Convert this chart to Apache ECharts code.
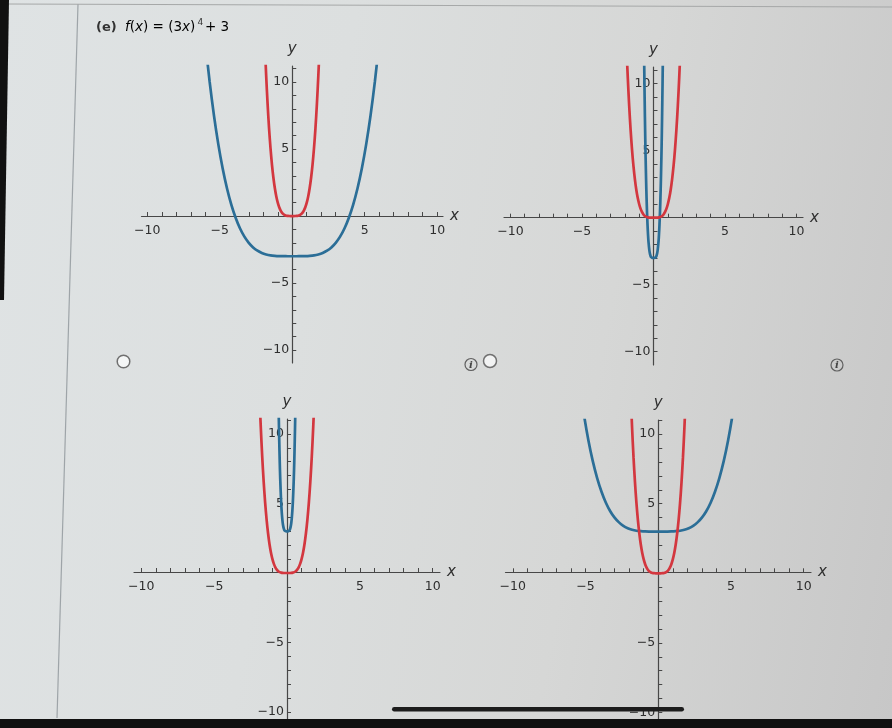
<!DOCTYPE html>
<html>
<head>
<meta charset="utf-8">
<script src="https://cdn.jsdelivr.net/npm/echarts@6/dist/echarts.min.js"></script>
<style>
  html, body { margin: 0; padding: 0; }
  body {
    width: 892px; height: 728px; overflow: hidden;
    background: linear-gradient(100deg, #dfe3e4 0%, #dcdfdf 35%, #d6d7d6 65%, #c7c7c7 100%);
  }
  #chart { width: 892px; height: 728px; }
</style>
</head>
<body>
<div id="chart"></div>
<script>
// ---- data ----
// parent curve y = x^4 sample points
const xParent = [-2, -1.9, -1.8, -1.7, -1.6, -1.5, -1.4, -1.3, -1.2, -1.1, -1, -0.9, -0.8, -0.7, -0.6, -0.5, -0.4, -0.3, -0.2, -0.1, 0, 0.1, 0.2, 0.3, 0.4, 0.5, 0.6, 0.7, 0.8, 0.9, 1, 1.1, 1.2, 1.3, 1.4, 1.5, 1.6, 1.7, 1.8, 1.9, 2];
const yParent = [16, 13.03, 10.5, 8.35, 6.55, 5.06, 3.84, 2.86, 2.07, 1.46, 1, 0.656, 0.41, 0.24, 0.13, 0.0625, 0.026, 0.008, 0.002, 0, 0, 0, 0.002, 0.008, 0.026, 0.0625, 0.13, 0.24, 0.41, 0.656, 1, 1.46, 2.07, 2.86, 3.84, 5.06, 6.55, 8.35, 10.5, 13.03, 16];
// horizontally stretched / compressed x positions of the blue curves
const xWide = [-6, -5.7, -5.4, -5.1, -4.8, -4.5, -4.2, -3.9, -3.6, -3.3, -3, -2.7, -2.4, -2.1, -1.8, -1.5, -1.2, -0.9, -0.6, -0.3, 0, 0.3, 0.6, 0.9, 1.2, 1.5, 1.8, 2.1, 2.4, 2.7, 3, 3.3, 3.6, 3.9, 4.2, 4.5, 4.8, 5.1, 5.4, 5.7, 6];
const xNarrow = [-0.667, -0.633, -0.6, -0.567, -0.533, -0.5, -0.467, -0.433, -0.4, -0.367, -0.333, -0.3, -0.267, -0.233, -0.2, -0.167, -0.133, -0.1, -0.067, -0.033, 0, 0.033, 0.067, 0.1, 0.133, 0.167, 0.2, 0.233, 0.267, 0.3, 0.333, 0.367, 0.4, 0.433, 0.467, 0.5, 0.533, 0.567, 0.6, 0.633, 0.667];
// blue curve heights (shifted down 3 / up 3)
const yDown = [13, 10.03, 7.5, 5.35, 3.55, 2.06, 0.84, -0.14, -0.93, -1.54, -2, -2.34, -2.59, -2.76, -2.87, -2.94, -2.974, -2.992, -2.998, -3, -3, -3, -2.998, -2.992, -2.974, -2.94, -2.87, -2.76, -2.59, -2.34, -2, -1.54, -0.93, -0.14, 0.84, 2.06, 3.55, 5.35, 7.5, 10.03, 13];
const yUp = [19, 16.03, 13.5, 11.35, 9.55, 8.06, 6.84, 5.86, 5.07, 4.46, 4, 3.66, 3.41, 3.24, 3.13, 3.06, 3.026, 3.008, 3.002, 3, 3, 3, 3.002, 3.008, 3.026, 3.06, 3.13, 3.24, 3.41, 3.66, 4, 4.46, 5.07, 5.86, 6.84, 8.06, 9.55, 11.35, 13.5, 16.03, 19];
// axis ticks / labels
const xTicks = [-10, -9, -8, -7, -6, -5, -4, -3, -2, -1, 1, 2, 3, 4, 5, 6, 7, 8, 9, 10];
const yTicks = [-10, -9, -8, -7, -6, -5, -4, -3, -2, -1, 1, 2, 3, 4, 5, 6, 7, 8, 9, 10, 11];
const tickLabels = [-10, -5, 5, 10];
// panels: which blue curve goes where
const panels = [
  { bx: xWide,   by: yDown },  // top-left
  { bx: xNarrow, by: yDown },  // top-right
  { bx: xNarrow, by: yUp },    // bottom-left
  { bx: xWide,   by: yUp }     // bottom-right
];

const RED = '#d3373f';
const BLUE = '#2b6e97';
const AXIS = '#474747';

const zip = (xs, ys) => xs.map((x, i) => [x, ys[i]]);
const fmt = v => (v < 0 ? '\u2212' + Math.abs(v) : String(v));

const gridDefs = [
  { left: 141.5, top: 66, width: 301.5, height: 297, xr: 10.4, ymin: -10.97, ymax: 11.2 },
  { left: 504, top: 67, width: 299, height: 298, xr: 10.45, ymin: -10.99, ymax: 11.24 },
  { left: 134, top: 419, width: 306, height: 311, xr: 10.5, ymin: -11.14, ymax: 11.07 },
  { left: 505.5, top: 420, width: 305.5, height: 310, xr: 10.5, ymin: -11.12, ymax: 11.02 }
];

const grids = [], xAxes = [], yAxes = [], series = [];
gridDefs.forEach((g, i) => {
  grids.push({ left: g.left, top: g.top, width: g.width, height: g.height, containLabel: false });
  // place the axes through the origin (layout only)
  const xOff = -g.height * (0 - g.ymin) / (g.ymax - g.ymin);
  const yOff = -g.width * 0.5;
  xAxes.push({
    type: 'value', gridIndex: i, min: -g.xr, max: g.xr, position: 'bottom', offset: xOff,
    name: 'x', nameLocation: 'end', nameGap: 7,
    nameTextStyle: { fontFamily: 'DejaVu Sans', fontStyle: 'italic', fontSize: 15, color: '#2e2e2e', verticalAlign: 'middle' },
    axisLine: { show: true, onZero: false, lineStyle: { color: AXIS, width: 1.2 } },
    axisTick: { show: true, inside: true, length: 4, customValues: xTicks, lineStyle: { color: AXIS, width: 1 } },
    axisLabel: { show: true, customValues: tickLabels, formatter: fmt, margin: 8, fontFamily: 'DejaVu Sans', fontSize: 12.5, color: '#2e2e2e' },
    splitLine: { show: false }
  });
  yAxes.push({
    type: 'value', gridIndex: i, min: g.ymin, max: g.ymax, position: 'left', offset: yOff,
    name: 'y', nameLocation: 'end', nameGap: 9,
    nameTextStyle: { fontFamily: 'DejaVu Sans', fontStyle: 'italic', fontSize: 15, color: '#2e2e2e' },
    axisLine: { show: true, onZero: false, lineStyle: { color: AXIS, width: 1.2 } },
    axisTick: { show: true, inside: true, length: 4, customValues: yTicks, lineStyle: { color: AXIS, width: 1 } },
    axisLabel: { show: true, customValues: tickLabels, formatter: fmt, margin: 3, fontFamily: 'DejaVu Sans', fontSize: 12.5, color: '#2e2e2e' },
    splitLine: { show: false }
  });
  const p = panels[i];
  series.push({
    type: 'line', xAxisIndex: i, yAxisIndex: i, data: zip(p.bx, p.by),
    smooth: 0.3, showSymbol: false, clip: true,
    lineStyle: { color: BLUE, width: 2.7 }, z: 3
  });
  series.push({
    type: 'line', xAxisIndex: i, yAxisIndex: i, data: zip(xParent, yParent),
    smooth: 0.3, showSymbol: false, clip: true,
    lineStyle: { color: RED, width: 2.7 }, z: 4
  });
});

const graphic = [
  // black left edge of the photo
  { type: 'polygon', shape: { points: [[0, 0], [9, 0], [4, 300], [0, 300]] }, style: { fill: '#111' }, z: 0 },
  // panel separator line and top line
  { type: 'line', shape: { x1: 78, y1: 4, x2: 57, y2: 718 }, style: { stroke: '#9ea4a8', lineWidth: 1.2 }, z: 0 },
  { type: 'line', shape: { x1: 9, y1: 4, x2: 892, y2: 7 }, style: { stroke: '#a6a8a8', lineWidth: 1.2 }, z: 0 },
  // title
  { type: 'text', left: 96, top: 21, style: { text: '(e)', font: 'bold 13px "DejaVu Sans"', fill: '#333' } },
  { type: 'text', left: 125, top: 20, style: {
      text: '{i|f}{n|(}{i|x}{n|) = (}{r|3}{i|x}{n|)}',
      rich: {
        i: { fontFamily: 'DejaVu Sans', fontStyle: 'italic', fontSize: 13.5, color: '#333' },
        n: { fontFamily: 'DejaVu Sans', fontSize: 13.5, color: '#333' },
        r: { fontFamily: 'DejaVu Sans', fontSize: 13.5, color: '#d3373f' }
      } } },
  { type: 'text', left: 197.5, top: 18, style: { text: '4', font: '9px "DejaVu Sans"', fill: '#333' } },
  { type: 'text', left: 205, top: 20, style: {
      text: '{n|+ }{r|3}',
      rich: {
        n: { fontFamily: 'DejaVu Sans', fontSize: 13.5, color: '#333' },
        r: { fontFamily: 'DejaVu Sans', fontSize: 13.5, color: '#d3373f' }
      } } },
  // radio buttons
  { type: 'circle', shape: { cx: 123.5, cy: 361.5, r: 6.3 }, style: { fill: '#f4f6f6', stroke: '#707070', lineWidth: 1.5 } },
  { type: 'circle', shape: { cx: 490, cy: 361, r: 6.5 }, style: { fill: '#f2f3f3', stroke: '#707070', lineWidth: 1.5 } },
  // info icons
  { type: 'circle', shape: { cx: 471, cy: 364.5, r: 6 }, style: { fill: 'none', stroke: '#606060', lineWidth: 1.2 } },
  { type: 'text', x: 471, y: 365, style: { text: 'i', font: 'italic bold 10px "DejaVu Serif"', fill: '#444', align: 'center', verticalAlign: 'middle' } },
  { type: 'circle', shape: { cx: 837, cy: 365, r: 6 }, style: { fill: 'none', stroke: '#606060', lineWidth: 1.2 } },
  { type: 'text', x: 837, y: 365.5, style: { text: 'i', font: 'italic bold 10px "DejaVu Serif"', fill: '#444', align: 'center', verticalAlign: 'middle' } },
  // phone home bar and bottom black band
  { type: 'rect', shape: { x: 392, y: 707, width: 292, height: 4.5, r: 2.2 }, style: { fill: '#1c1c1c' }, z: 100 },
  { type: 'rect', shape: { x: 0, y: 719, width: 892, height: 9 }, style: { fill: '#101010' }, z: 100 }
];

const chart = echarts.init(document.getElementById('chart'), null, { renderer: 'canvas' });
chart.setOption({
  backgroundColor: 'transparent',
  animation: false,
  grid: grids,
  xAxis: xAxes,
  yAxis: yAxes,
  series: series,
  graphic: graphic
});
</script>
</body>
</html>
